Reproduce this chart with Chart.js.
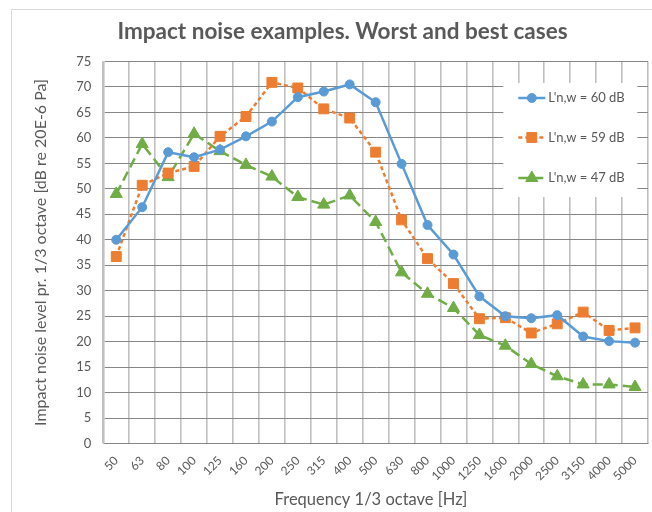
<!DOCTYPE html>
<html><head><meta charset="utf-8">
<script src="https://cdn.jsdelivr.net/npm/chart.js@4/dist/chart.umd.min.js"></script>
<style>
html,body{margin:0;padding:0;overflow:hidden;background:#fff;width:652px;height:512px;}
#wrap{position:absolute;left:0;top:0;width:656px;height:512px;}
</style></head><body>
<div id="wrap"><canvas id="c"></canvas></div>
<script>
const TITLE = 'Impact noise examples. Worst and best cases';
const X_TITLE = 'Frequency 1/3 octave [Hz]';
const Y_TITLE = 'Impact noise level pr. 1/3 octave [dB re 20E-6 Pa]';
const categories = ['50','63','80','100','125','160','200','250','315','400','500','630','800','1000','1250','1600','2000','2500','3150','4000','5000'];
const seriesNames = ["L'n,w = 60 dB", "L'n,w = 59 dB", "L'n,w = 47 dB"];
const series60 = [40.0,46.4,57.2,56.2,57.7,60.3,63.2,68.0,69.1,70.5,67.0,54.9,42.9,37.1,28.9,25.0,24.6,25.2,21.0,20.1,19.8];
const series59 = [36.7,50.7,53.1,54.4,60.3,64.2,70.9,69.8,65.7,63.9,57.2,43.9,36.3,31.4,24.5,24.7,21.7,23.5,25.8,22.2,22.7];
const series47 = [49.0,58.8,52.3,60.8,57.4,54.7,52.4,48.4,46.9,48.7,43.5,33.6,29.4,26.6,21.3,19.2,15.6,13.2,11.6,11.6,11.1];
const yMin = 0, yMax = 75, yStep = 5;

const TEXT = '#595959';
const FONT = 'Lato';
const colors = ['#5B9BD5', '#ED7D31', '#70AD47'];
const dashes = [[], [4, 3], [10, 5]];
const shapes = ['circle', 'rect', 'triangle'];
const radii = [4.5, 7, 7];
const values = [series60, series59, series47];

const datasets = values.map((v, i) => ({
  label: seriesNames[i],
  data: v,
  borderColor: colors[i],
  backgroundColor: colors[i],
  borderWidth: 2.5,
  borderDash: dashes[i],
  pointStyle: shapes[i],
  pointRadius: radii[i],
  pointHoverRadius: radii[i],
  pointBorderWidth: 1,
  pointBorderColor: colors[i],
  pointBackgroundColor: colors[i],
  tension: 0,
  fill: false
}));

const framePlugin = {
  id: 'frame',
  beforeDraw(chart) {
    const ctx = chart.ctx;
    ctx.save();
    ctx.strokeStyle = '#d9d9d9';
    ctx.lineWidth = 1;
    ctx.beginPath();
    ctx.moveTo(11.5, 600);
    ctx.lineTo(11.5, 9.5);
    ctx.lineTo(700, 9.5);
    ctx.stroke();
    ctx.restore();
  },
  afterLayout(chart) {
    for (const b of chart.boxes) {
      if (!b.options) continue;
      if (b.options.text === TITLE) {
        const d = 342.5 - (b.left + b.right) / 2;
        b.left += d; b.right += d;
      } else if (b.options.text === X_TITLE) {
        const d = 371 - (b.left + b.right) / 2;
        b.left += d; b.right += d;
      }
    }
  },
  afterDatasetsDraw(chart) {
    const ctx = chart.ctx;
    const a = chart.chartArea;
    const bx = a.left + 400, by = a.top + 21.5, bw = 134, bh = 114;
    ctx.save();
    ctx.fillStyle = '#ffffff';
    ctx.fillRect(bx, by, bw, bh);
    const rows = [15, 54.5, 95];
    chart.data.datasets.forEach((ds, i) => {
      const cy = by + rows[i];
      ctx.strokeStyle = ds.borderColor;
      ctx.lineWidth = 2.5;
      ctx.setLineDash(ds.borderDash || []);
      ctx.beginPath();
      ctx.moveTo(bx + 15, cy);
      ctx.lineTo(bx + 42, cy);
      ctx.stroke();
      ctx.setLineDash([]);
      ctx.fillStyle = ds.backgroundColor;
      ctx.strokeStyle = ds.borderColor;
      ctx.lineWidth = 1;
      Chart.helpers.drawPoint(ctx, {pointStyle: ds.pointStyle, radius: ds.pointRadius, borderWidth: 1, rotation: 0}, bx + 28.5, cy);
      ctx.fillStyle = TEXT;
      ctx.font = '13px ' + FONT;
      ctx.textAlign = 'left';
      ctx.textBaseline = 'middle';
      ctx.fillText(ds.label, bx + 45, cy);
    });
    ctx.restore();
  }
};

new Chart(document.getElementById('c'), {
  type: 'line',
  data: { labels: categories, datasets },
  plugins: [framePlugin],
  options: {
    responsive: true,
    maintainAspectRatio: false,
    animation: false,
    layout: { padding: { left: 14, right: 0.5, top: 0, bottom: 0 } },
    plugins: {
      legend: { display: false },
      tooltip: { enabled: false },
      title: {
        display: true, text: TITLE, color: TEXT,
        font: { family: FONT, size: 22.5, weight: 'bold' },
        padding: { top: 18.5, bottom: 16 }
      },
      subtitle: {
        display: true, text: X_TITLE, position: 'bottom', color: TEXT,
        font: { family: FONT, size: 16.5 },
        padding: { top: 6.6, bottom: 2.1 }
      }
    },
    scales: {
      x: {
        offset: true,
        grid: { offset: true, color: '#c0c0c0', lineWidth: 1.6, drawTicks: false },
        border: { color: '#868686', width: 1 },
        ticks: { color: TEXT, font: { family: FONT, size: 12 }, maxRotation: 45, minRotation: 45, autoSkip: false, padding: 10 },
        afterFit(s) { s.height = 40; }
      },
      y: {
        min: yMin, max: yMax,
        grid: { color: '#868686', lineWidth: 1, drawTicks: false },
        border: { color: '#c0c0c0', width: 1.6 },
        ticks: { stepSize: yStep, color: TEXT, font: { family: FONT, size: 13 }, padding: 12 },
        title: { display: true, text: Y_TITLE, color: TEXT, font: { family: FONT, size: 16 }, padding: { top: 17.4, bottom: 0 } },
        afterFit(s) { s.width = 89.3; }
      }
    }
  }
});
</script>
</body></html>
